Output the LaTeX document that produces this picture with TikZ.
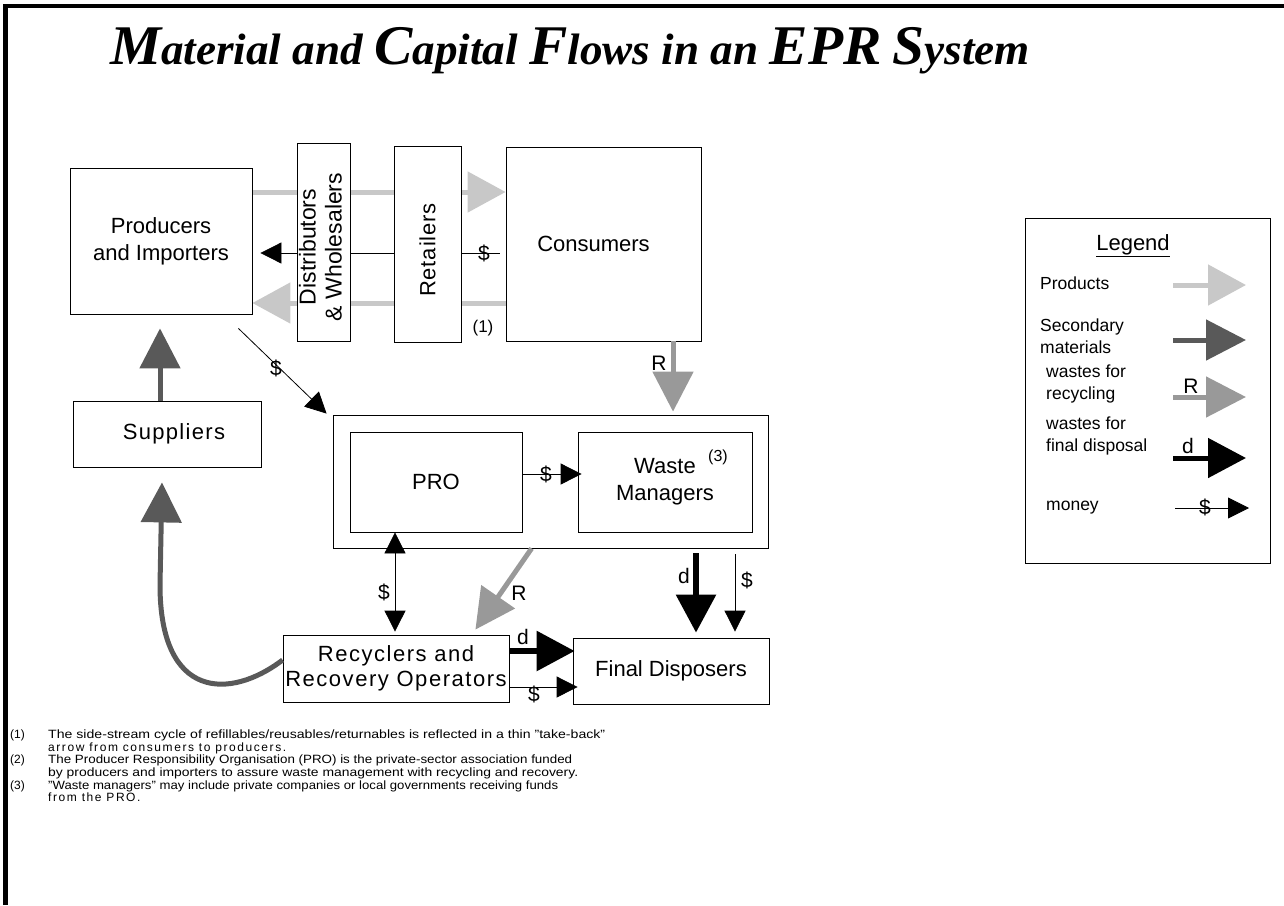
\documentclass[tikz,border=0pt]{standalone}
\usepackage{fontspec}
\setmainfont{Liberation Sans}
\newfontfamily\titlefont{Liberation Serif}
\usetikzlibrary{arrows.meta,backgrounds,calc}
\definecolor{prodgray}{HTML}{C8C8C8}
\definecolor{secgray}{HTML}{595959}
\definecolor{recgray}{HTML}{999999}
\newcommand\TBig[1]{{\fontsize{56}{60}\selectfont #1}}
\newcommand\TSm[1]{{\fontsize{44}{50}\selectfont #1}}
\tikzset{
  box/.style={draw=black, line width=0.8pt, fill=white, inner sep=0pt, align=center,
    font=\fontsize{22}{27}\selectfont},
  frame/.style={draw=black, line width=0.8pt, inner sep=0pt},
  prodflow/.style={draw=prodgray, line width=5pt, -{Triangle[length=38pt,width=40pt]}},
  secflow/.style={draw=secgray, line width=5pt, -{Triangle[length=40pt,width=40pt]}},
  recflow/.style={draw=recgray, line width=5pt, -{Triangle[length=40pt,width=40pt]}},
  dispflow/.style={draw=black, line width=6pt, -{Triangle[length=38pt,width=39pt]}},
  money/.style={draw=black, line width=0.8pt, -{Triangle[length=21pt,width=21pt]}},
  lbl/.style={inner sep=0pt, font=\fontsize{21}{21}\selectfont},
  legtext/.style={inner sep=0pt, anchor=west, align=left, font=\fontsize{17.5}{22}\selectfont},
  fn/.style={anchor=base west, inner sep=0pt, font=\fontsize{12}{12}\selectfont},
}
\begin{document}
\begin{tikzpicture}[x=1pt,y=-1pt]
\useasboundingbox (0,0) rectangle (1284,905);
% outer frame lines
\draw[line width=4.5pt] (5.5,905) -- (5.5,6) -- (1284,6);
% title
\node[anchor=base, inner sep=0pt] (title) at (570,64)
  {\resizebox{920pt}{\height}{\titlefont\bfseries\itshape\TBig{M}\TSm{aterial and }\TBig{C}\TSm{apital }\TBig{F}\TSm{lows in an }\TBig{EPR}\TSm{ }\TBig{S}\TSm{ystem}}};
% boxes
\node[box, minimum width=182pt, minimum height=146pt] (prod) at (161,241) {Producers\\and Importers};
\node[box, minimum width=53pt, minimum height=198pt, font=\fontsize{23}{26}\selectfont] (dist) at (323.5,242)
  {\rotatebox{90}{\hspace*{-10pt}\begin{tabular}{@{}c@{}}Distributors\\\&~Wholesalers\end{tabular}}};
\node[box, minimum width=67pt, minimum height=196pt] (ret) at (427.5,244)
  {\rotatebox{90}{\addfontfeatures{LetterSpace=4}Retailers\hspace*{12pt}}};
\node[box, minimum width=195pt, minimum height=194pt] (cons) at (603.5,244) {Consumers\hspace*{20pt}};
\node[box, minimum width=188pt, minimum height=66pt] (sup) at (167,434)
  {\hspace*{14pt}{\addfontfeatures{LetterSpace=6}Suppliers}};
\node[frame, minimum width=435pt, minimum height=133pt] (outer) at (550.5,481.5) {};
\node[box, minimum width=172pt, minimum height=100pt] (pro) at (436,482) {PRO};
\node[box, minimum width=174pt, minimum height=100pt] (wm) at (665,482) {Waste\\Managers};
\node[inner sep=0pt, font=\fontsize{16}{16}\selectfont] (n3) at (718,457) {(3)};
\node[box, minimum width=226pt, minimum height=67pt, font=\fontsize{22}{25}\selectfont] (rec) at (396,668.5)
  {\addfontfeatures{LetterSpace=7}Recyclers and\\\addfontfeatures{LetterSpace=7}Recovery Operators};
\node[box, minimum width=196pt, minimum height=66pt] (fd) at (671,671) {Final Disposers};
% helper coordinates
\coordinate (yP) at (0,192);
\coordinate (yM) at (0,253);
\coordinate (yB) at (0,303);
\coordinate (xR) at (673,0);
\coordinate (xS) at (160,0);
\coordinate (yC) at (0,660);
\coordinate (yPW) at (0,474);
\coordinate (xPR) at (395,0);
\coordinate (xd) at (696,0);
\coordinate (xm) at (735,0);
\coordinate (yd) at (0,651);
\coordinate (ym) at (0,687);
\begin{scope}[on background layer]
  \draw[prodflow] (prod.east |- yP) -- (cons.west |- yP);
  \draw[money] ($(cons.west |- yM)+(-6,0)$) -- ($(prod.east |- yM)+(8,0)$);
  \draw[prodflow] (cons.west |- yB) -- (prod.east |- yB);
\end{scope}
\node[lbl] (lm1) at (484,253) {\$};
\node[inner sep=0pt, font=\fontsize{17}{17}\selectfont] (n1) at (483,328) {(1)};
% consumers to waste managers
\draw[recflow] (cons.south -| xR) -- ($(outer.north -| xR)+(0,-3)$);
\node[lbl] (lR1) at (659,363) {R};
% producers to PRO money
\draw[money] ($(prod.south east)+(-14,14)$) -- ($(outer.north west)+(-6,-1)$);
\node[lbl] (lm2) at (276,368) {\$};
% suppliers to producers
\draw[secflow] (sup.north -| xS) -- ($(prod.south -| xS)+(0,14)$);
% recyclers to suppliers
\draw[secflow] (rec.west |- yC) .. controls (230,700) and (160,700) .. (160,585) -- ($(sup.south)+(-5,15)$);
% PRO to waste managers
\draw[money] (pro.east |- yPW) -- ($(wm.west |- yPW)+(4,0)$);
\node[lbl] (lm3) at (546,474) {\$};
% PRO <-> recyclers
\draw[money, {Triangle[length=21pt,width=21pt]}-{Triangle[length=21pt,width=21pt]}] (pro.south -| xPR) -- ($(rec.north -| xPR)+(0,-3)$);
\node[lbl] (lm4) at (384,592) {\$};
% R diagonal
\draw[recflow] ($(outer.south west)+(199,0)$) -- ($(rec.north east)+(-34,-5)$);
\node[lbl] (lR2) at (519,593) {R};
% d down
\draw[dispflow] ($(outer.south -| xd)+(0,5)$) -- ($(fd.north -| xd)+(0,-5)$);
\node[lbl] (ld1) at (684,576) {d};
% $ down
\draw[money] ($(outer.south -| xm)+(0,6)$) -- ($(fd.north -| xm)+(0,-6)$);
\node[lbl] (lm5) at (747,580) {\$};
% d right
\draw[dispflow] (rec.east |- yd) -- ($(fd.west |- yd)+(2,0)$);
\node[lbl] (ld2) at (523,637) {d};
% $ right
\draw[money] (rec.east |- ym) -- ($(fd.west |- ym)+(5,0)$);
\node[lbl] (lm6) at (534,694) {\$};
% legend
\node[frame, minimum width=245pt, minimum height=345pt] (leg) at (1147.5,390.5) {};
\node[inner sep=0pt, font=\fontsize{22}{22}\selectfont] (legt) at (1133,246) {\underline{Legend}};
\node[legtext] (lt1) at (1040,283) {Products};
\node[legtext] (lt2) at (1040,336) {Secondary\\materials};
\node[legtext] (lt3) at (1046,384) {wastes for\\recycling};
\node[legtext] (lt4) at (1046,436) {wastes for\\final disposal};
\node[legtext] (lt5) at (1046,508) {money};
\coordinate (la1) at (1173,285); \coordinate (lb1) at (1246,285);
\coordinate (la2) at (1173,340); \coordinate (lb2) at (1246,340);
\coordinate (la3) at (1173,397); \coordinate (lb3) at (1246,397);
\coordinate (la4) at (1173,458); \coordinate (lb4) at (1246,458);
\coordinate (la5) at (1175,508); \coordinate (lb5) at (1249,508);
\draw[prodflow, line width=5pt] (la1) -- (lb1);
\draw[secflow] (la2) -- (lb2);
\draw[recflow] (la3) -- (lb3);
\draw[dispflow, line width=5pt] (la4) -- (lb4);
\draw[money] (la5) -- (lb5);
\node[lbl] (lgR) at (1191,386) {R};
\node[lbl] (lgd) at (1188,446) {d};
\node[lbl] (lgm) at (1205,507) {\$};
% footnotes
\node[fn] (f1m) at (10,738) {(1)};
\node[fn] (f1a) at (48,738) {\resizebox{557pt}{\height}{The side-stream cycle of refillables/reusables/returnables is reflected in a thin "take-back"}};
\node[fn] (f1b) at (48,751) {\addfontfeatures{LetterSpace=13}arrow from consumers to producers.};
\node[fn] (f2m) at (10,763) {(2)};
\node[fn] (f2a) at (48,763) {\resizebox{524pt}{\height}{The Producer Responsibility Organisation (PRO) is the private-sector association funded}};
\node[fn] (f2b) at (48,776) {\resizebox{530pt}{\height}{by producers and importers to assure waste management with recycling and recovery.}};
\node[fn] (f3m) at (10,789) {(3)};
\node[fn] (f3a) at (48,789) {\resizebox{510pt}{\height}{"Waste managers" may include private companies or local governments receiving funds}};
\node[fn] (f3b) at (48,801) {\addfontfeatures{LetterSpace=13}from the PRO.};
\end{tikzpicture}
\end{document}
